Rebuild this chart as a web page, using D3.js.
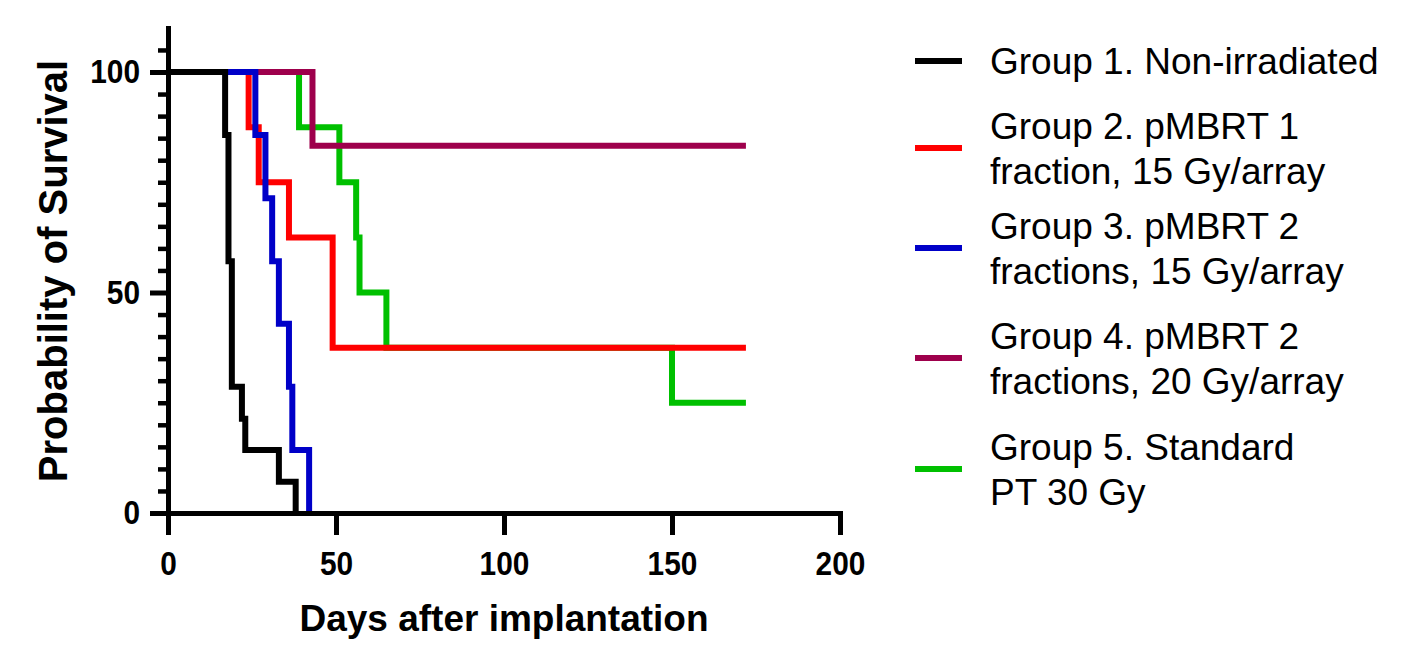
<!DOCTYPE html>
<html><head><meta charset="utf-8">
<script src="https://cdn.jsdelivr.net/npm/d3@7"></script>
<style>body{margin:0;background:#fff} svg{display:block}</style>
</head><body><svg id="c" width="1421" height="662"></svg>
<script>
// ---- data ----
const groupLabels = [
  ["Group 1. Non-irradiated"],
  ["Group 2. pMBRT 1", "fraction, 15 Gy/array"],
  ["Group 3. pMBRT 2", "fractions, 15 Gy/array"],
  ["Group 4. pMBRT 2", "fractions, 20 Gy/array"],
  ["Group 5. Standard", "PT 30 Gy"]
];
const groupColors = ["#000000", "#ff0000", "#0000c8", "#9e004c", "#00c000"];
const g1Days = [0, 17, 18, 19, 22, 23, 33, 38];
const g1Surv = [100, 85.7, 57.1, 28.6, 21.4, 14.3, 7.1, 0];
const g2Days = [0, 24, 27, 36, 49, 172];
const g2Surv = [100, 87.5, 75, 62.5, 37.5, 37.5];
const g3Days = [0, 26, 29, 31, 33, 36, 37, 42];
const g3Surv = [100, 85.7, 71.4, 57.1, 42.9, 28.6, 14.3, 0];
const g4Days = [0, 43, 172];
const g4Surv = [100, 83.3, 83.3];
const g5Days = [0, 39, 51, 56, 57, 65, 150, 172];
const g5Surv = [100, 87.5, 75, 62.5, 50, 37.5, 25, 25];
const xTickValues = [0, 50, 100, 150, 200];
const yMajorTicks = [0, 50, 100];
const yMinorTicks = [5, 10, 15, 20, 25, 30, 35, 40, 45, 55, 60, 65, 70, 75, 80, 85, 90, 95, 105];
const xTitle = "Days after implantation";
const yTitle = "Probability of Survival";

const groups = [
  {days: g1Days, surv: g1Surv},
  {days: g2Days, surv: g2Surv},
  {days: g3Days, surv: g3Surv},
  {days: g4Days, surv: g4Surv},
  {days: g5Days, surv: g5Surv}
];

// ---- layout ----
const svg = d3.select("#c");
const font = "'Liberation Sans', Arial, Helvetica, sans-serif";
const x = d3.scaleLinear().domain([0, 200]).range([168, 840]);
const y = d3.scaleLinear().domain([0, 110]).range([513, 513 - 4.41 * 110]);

// curves (drawn back to front)
const drawOrder = [4, 1, 3, 2, 0];
const line = d3.line().x(d => x(d[0])).y(d => y(d[1])).curve(d3.curveStepAfter);
drawOrder.forEach(i => {
  const g = groups[i];
  const pts = g.days.map((d, k) => [d, g.surv[k]]);
  svg.append("path")
    .attr("d", line(pts))
    .attr("fill", "none")
    .attr("stroke", groupColors[i])
    .attr("stroke-width", 6)
    .attr("stroke-linejoin", "miter")
    .attr("stroke-linecap", "butt");
});

// axes
function styleAxis(sel) {
  sel.selectAll(".domain").attr("stroke", "#000").attr("stroke-width", 5).attr("stroke-linecap", "square");
  sel.selectAll(".tick line").attr("stroke", "#000").attr("stroke-width", 5);
}
function styleTickText(sel) {
  sel.selectAll(".tick text")
    .attr("font-family", font).attr("font-size", 34).attr("font-weight", "bold").attr("fill", "#000")
    .attr("lengthAdjust", "spacingAndGlyphs")
    .attr("textLength", function () { return this.textContent.length * 16.6; });
}
const yMinorAxis = svg.append("g").attr("transform", "translate(168,0)")
  .call(d3.axisLeft(y).tickValues(yMinorTicks).tickSize(10).tickSizeOuter(0).tickFormat(""));
styleAxis(yMinorAxis);
yMinorAxis.selectAll(".tick line").attr("stroke-width", 4.5);
const yAxis = svg.append("g").attr("transform", "translate(168,0)")
  .call(d3.axisLeft(y).tickValues(yMajorTicks).tickSize(18).tickSizeOuter(0).tickPadding(10));
styleAxis(yAxis);
styleTickText(yAxis);

const xAxis = svg.append("g").attr("transform", "translate(0,513)")
  .call(d3.axisBottom(x).tickValues(xTickValues).tickSize(22).tickSizeOuter(0).tickPadding(16));
styleAxis(xAxis);
styleTickText(xAxis);

// axis titles
svg.append("text").attr("x", 504).attr("y", 631).attr("text-anchor", "middle")
  .attr("font-family", font).attr("font-size", 37).attr("font-weight", "bold").text(xTitle);
svg.append("text").attr("transform", "translate(67,271) rotate(-90)").attr("text-anchor", "middle")
  .attr("font-family", font).attr("font-size", 40).attr("font-weight", "bold").text(yTitle);

// legend
const legendY = [61, 148, 248, 358, 469];
groupLabels.forEach((lines, i) => {
  const cy = legendY[i];
  svg.append("line").attr("x1", 915).attr("x2", 962).attr("y1", cy).attr("y2", cy)
    .attr("stroke", groupColors[i]).attr("stroke-width", 6);
  const t = svg.append("text").attr("font-family", font).attr("font-size", 37).attr("fill", "#000");
  const first = cy + 13 - (lines.length - 1) * 22.5;
  lines.forEach((s, k) => {
    t.append("tspan").attr("x", 990).attr("y", first + k * 45).text(s);
  });
});
</script>
</body></html>
